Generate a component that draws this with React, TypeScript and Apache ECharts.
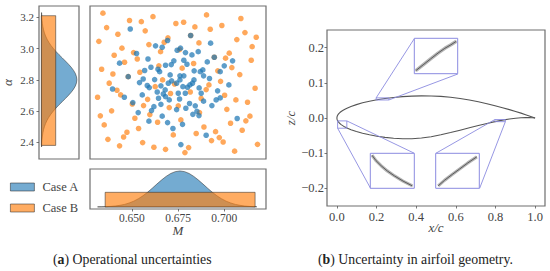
import React, { useEffect, useRef } from "react";
import * as echarts from "echarts";

const FONT = "Liberation Serif";
const BLUE = "rgba(31,119,180,0.62)";
const ORANGE = "rgba(255,127,14,0.65)";
const EDGE = "rgba(40,40,40,0.65)";
const FRAME = "#6e6e6e";
const INSET = "#8b8be0";

// [M, alpha]
const caseA: number[][] = [
[.6491,3.125],[.6693,3.051],[.6628,3.017],[.6664,3.008],[.6525,2.968],[.6587,2.933],[.6433,2.906],[.6763,3.002],[.6745,2.989],[.679,2.974],[.6825,2.959],[.6859,2.980],[.6926,3.034],[.6908,2.914],[.7045,2.921],[.700,2.889],[.6978,2.852],[.6884,2.863],[.687,2.852],[.6837,2.857],[.6727,2.921],[.6713,2.897],[.6682,2.893],[.6781,2.925],[.6798,2.899],[.6603,2.880],[.6569,2.859],[.6641,2.867],[.665,2.852],[.6707,2.831],[.676,2.825],[.6781,2.825],[.6836,2.799],[.6888,2.825],[.692,2.808],[.6561,2.805],[.6541,2.782],[.6623,2.801],[.6583,2.763],[.6594,2.750],[.6715,2.793],[.6697,2.778],[.6657,2.761],[.676,2.799],[.6742,2.778],[.6776,2.756],[.6828,2.778],[.6814,2.767],[.6801,2.752],[.6864,2.748],[.6964,2.729],[.7025,2.767],[.6395,2.741],[.6459,2.688],[.6505,2.654],[.6556,2.703],[.6637,2.722],[.668,2.735],[.667,2.709],[.6644,2.682],[.6702,2.671],[.6751,2.714],[.6789,2.714],[.6875,2.714],[.6758,2.677],[.6888,2.663],[.6956,2.671],[.6978,2.684],[.6682,2.692],[.6619,2.628],[.6606,2.603],[.6657,2.643],[.6534,2.590],[.6592,2.535],[.6664,2.567],[.6693,2.526],[.6722,2.488],[.6774,2.515],[.6742,2.609],[.6792,2.618],[.6812,2.648],[.6843,2.633],[.683,2.579],[.6863,2.571],[.6852,2.598],[.6933,2.635],[.707,2.552],[.6902,2.445],[.6765,2.385],[.6818,3.083],[.6946,2.944],[.648,2.820],
];
const caseB: number[][] = [
[.6343,3.226],[.6363,3.134],[.6321,3.046],[.6424,3.091],[.6487,3.179],[.6551,3.172],[.6572,3.113],[.6614,3.204],[.6738,3.160],[.678,3.168],[.6841,3.138],[.6904,3.215],[.6924,3.123],[.6987,3.147],[.709,3.192],[.7112,3.102],[.7173,3.072],[.7068,3.057],[.7151,3.012],[.6695,3.068],[.6675,3.040],[.6592,3.025],[.6863,3.036],[.6446,3.002],[.6404,2.957],[.6509,2.974],[.6655,2.980],[.6529,2.933],[.646,2.912],[.6336,2.867],[.6397,2.837],[.6377,2.778],[.6314,2.688],[.6419,2.733],[.6439,2.703],[.639,2.601],[.6329,2.569],[.635,2.511],[.6502,2.645],[.6563,2.635],[.6516,2.554],[.6536,2.488],[.6473,2.464],[.6597,2.577],[.6639,2.528],[.6702,2.622],[.6751,2.633],[.6765,2.543],[.6866,2.590],[.6666,2.799],[.6646,2.889],[.6543,2.848],[.6772,2.874],[.6834,2.904],[.7027,2.970],[.7007,2.938],[.6965,2.857],[.7041,2.878],[.7146,2.925],[.7084,2.833],[.698,2.790],[.6917,2.767],[.6626,2.756],[.6731,2.773],[.6816,2.722],[.6709,2.712],[.6902,2.737],[.6875,2.680],[.7002,2.701],[.7063,2.671],[.7126,2.656],[.7014,2.611],[.7139,2.567],[.7117,2.537],[.7034,2.522],[.7097,2.477],[.7167,2.746],[.689,2.498],[.6953,2.468],[.6848,2.456],[.6724,2.447],[.6585,2.675],[.648,2.820],[.6818,3.083],[.6946,2.944],[.6758,2.993],[.637,2.419],[.6455,2.434],[.6433,2.377],[.6558,2.398],[.6619,2.368],[.6682,2.355],[.6931,2.411],[.6973,2.430],[.6994,2.402],[.6787,2.334],[.6807,2.366],[.7056,2.343],[.718,2.387],
];

// [density, alpha]
const alphaDensityA: number[][] = [
[.007,2.37],[.0085,2.38],[.013,2.40],[.020,2.42],[.030,2.44],[.044,2.46],[.063,2.48],[.088,2.50],[.120,2.52],[.161,2.54],[.211,2.56],[.270,2.58],[.339,2.60],[.416,2.62],[.500,2.64],[.589,2.66],[.677,2.68],[.763,2.70],[.841,2.72],[.907,2.74],[.958,2.76],[.989,2.78],[1,2.80],[.989,2.82],[.958,2.84],[.907,2.86],[.841,2.88],[.763,2.90],[.677,2.92],[.589,2.94],[.500,2.96],[.416,2.98],[.339,3.00],[.270,3.02],[.211,3.04],[.161,3.06],[.120,3.08],[.088,3.10],[.063,3.12],[.044,3.14],[.030,3.16],[.020,3.18],[.013,3.20],[.0085,3.22],[.007,3.23],
];
const alphaBoxB: number[][] = [[0,2.38],[.405,2.38],[.405,3.21],[0,3.21]];
// [M, density]
const machDensityA: number[][] = [
[.6314,.004],[.6335,.005],[.636,.010],[.6385,.017],[.641,.029],[.6435,.047],[.646,.073],[.6485,.112],[.651,.163],[.6535,.230],[.656,.313],[.6585,.411],[.661,.521],[.6635,.636],[.666,.748],[.6685,.849],[.671,.930],[.6735,.982],[.676,1],[.6785,.982],[.681,.930],[.6835,.849],[.686,.748],[.6885,.636],[.691,.521],[.6935,.411],[.696,.313],[.6985,.230],[.701,.163],[.7035,.112],[.706,.073],[.7085,.047],[.711,.029],[.7135,.017],[.716,.010],[.7176,.007],
];
const machBoxB: number[][] = [[.6355,0],[.7167,0],[.7167,.408],[.6355,.408]];

const upper: number[][] = [[0,0],[.0006,.0032],[.0024,.0063],[.0054,.0094],[.0096,.0125],[.015,.0155],[.0215,.0184],[.0292,.0213],[.0381,.0242],[.048,.0271],[.0711,.0326],[.0984,.038],[.1295,.0431],[.1642,.0477],[.2022,.0519],[.2429,.0555],[.2862,.0584],[.3316,.0607],[.3785,.0621],[.4266,.0628],[.4755,.0625],[.5245,.0613],[.5734,.0588],[.6215,.0553],[.6684,.051],[.7137,.046],[.7571,.0406],[.7978,.035],[.8355,.0293],[.8705,.0238],[.9016,.0186],[.9289,.0138],[.952,.0095],[.9708,.0059],[.985,.0031],[1,0]];
const lower: number[][] = [[0,0],[.0006,-.0032],[.0024,-.0063],[.0054,-.0094],[.0096,-.0126],[.015,-.0156],[.0215,-.0187],[.0292,-.0217],[.0381,-.0247],[.048,-.0276],[.0711,-.0332],[.0984,-.0384],[.1295,-.0433],[.1642,-.0478],[.2022,-.0517],[.2429,-.055],[.2862,-.0575],[.3316,-.059],[.3785,-.059],[.4266,-.057],[.4755,-.0531],[.5245,-.0477],[.5734,-.0414],[.6215,-.0346],[.6684,-.0278],[.7137,-.0213],[.7571,-.0154],[.7978,-.0102],[.8355,-.006],[.8705,-.0028],[.9016,-.0006],[.9289,.0007],[.952,.0012],[.9708,.0011],[.985,.0007],[1,0]];

const insetTopCurve: number[][] = [[.2,.0517],[.211,.0527],[.222,.0537],[.233,.0547],[.243,.0555],[.252,.0561],[.26,.0567]];
const insetLeftCurve: number[][] = [[.0054,-.0094],[.0096,-.0126],[.015,-.0156],[.0215,-.0187],[.0292,-.0217],[.0381,-.0247],[.048,-.0276]];
const insetRightCurve: number[][] = [[.8,-.00998],[.808,-.0090],[.817,-.00803],[.826,-.0071],[.836,-.00605],[.847,-.0050]];

const insetTopView = { x: [.198, .262], y: [.0512, .0572] };
const insetLeftView = { x: [.0036, .05], y: [-.029, -.00824] };
const insetRightView = { x: [.797, .85], y: [-.0104, -.0044] };

const connectorSets: number[][][] = [
  [[.198,.0572],[.39,.225]], [[.262,.0512],[.61,.125]],
  [[.05,-.00824],[.39,-.1]], [[.0036,-.029],[.17,-.2]],
  [[.797,-.0044],[.5,-.1]], [[.85,-.0104],[.72,-.2]],
];

const alphaTicks = [2.4, 2.6, 2.8, 3.0, 3.2];
const machTicks = [0.65, 0.675, 0.7];
const xcTicks = [0, 0.2, 0.4, 0.6, 0.8, 1.0];
const zcTicks = [-0.2, -0.1, 0, 0.1, 0.2];

const rectOf = (v: { x: number[]; y: number[] }) => [
  [v.x[0], v.y[0]], [v.x[1], v.y[0]], [v.x[1], v.y[1]], [v.x[0], v.y[1]], [v.x[0], v.y[0]],
];

const poly = (name: string, gi: number, pts: number[][], fill: string, z = 2) => ({
  type: "custom", name, xAxisIndex: gi, yAxisIndex: gi, z, clip: false,
  data: pts, encode: { x: 0, y: 1 },
  renderItem: (p: any, api: any) => {
    if (p.dataIndex !== 0) return null as any;
    return {
      type: "polygon",
      shape: { points: pts.map((q) => api.coord(q)) },
      style: { fill, stroke: EDGE, lineWidth: 0.8 },
    };
  },
});

const line = (gi: number, data: number[][], color: string, width: number, z = 3) => ({
  type: "line", xAxisIndex: gi, yAxisIndex: gi, data, z, showSymbol: false, symbol: "none",
  silent: true, lineStyle: { color, width }, clip: true,
});

const tickFont = (size: number, margin: number, formatter: (v: number) => string, customValues: number[]) => ({
  show: true, fontFamily: FONT, fontSize: size, color: "#444", margin, formatter, customValues,
  showMinLabel: true, showMaxLabel: true,
});
const hiddenAxis = (gi: number, min: number, max: number) => ({
  type: "value", gridIndex: gi, min, max, show: false, splitLine: { show: false },
});
const tick = (customValues: number[]) => ({ show: true, length: 2.5, lineStyle: { color: "#555", width: 0.8 }, customValues });
const nameStyle = { fontFamily: FONT, fontStyle: "italic", fontSize: 13, color: "#444" };
const neg = (d: number) => (v: number) => (v < 0 ? "\u2212" : "") + Math.abs(v).toFixed(d);

const frame = { show: true, borderColor: FRAME, borderWidth: 1.2, backgroundColor: "transparent" };
const insetFrame = { show: true, borderColor: INSET, borderWidth: 1, backgroundColor: "#fff", z: 5 };

export default function App() {
  const ref = useRef<HTMLDivElement>(null);
  useEffect(() => {
    if (!ref.current) return;
    const chart = echarts.init(ref.current, undefined, { renderer: "svg" });
    const alphaRange = [2.293, 3.272];
    const machRange = [0.6273, 0.7226];
    chart.setOption({
      animation: false,
      backgroundColor: "#fff",
      grid: [
        { left: 33, top: 6, width: 46, height: 153, ...frame },
        { left: 90, top: 6, width: 176, height: 153, ...frame },
        { left: 90, top: 169, width: 176, height: 40, ...frame },
        { left: 327, top: 30, width: 218, height: 176, ...frame },
        { left: 414.3, top: 38.3, width: 43.4, height: 35.4, ...insetFrame },
        { left: 370.3, top: 153.3, width: 44, height: 35, ...insetFrame },
        { left: 435.7, top: 153.3, width: 43.6, height: 35, ...insetFrame },
      ],
      xAxis: [
        hiddenAxis(0, -0.065, 1.06),
        hiddenAxis(1, machRange[0], machRange[1]),
        {
          type: "value", gridIndex: 2, min: machRange[0], max: machRange[1], name: "M", nameLocation: "middle", nameGap: 15, nameMoveOverlap: false,
          nameTextStyle: nameStyle, splitLine: { show: false }, axisLine: { show: false, onZero: false },
          axisTick: tick(machTicks), axisLabel: tickFont(11.5, 3, neg(3), machTicks),
        },
        {
          type: "value", gridIndex: 3, min: -0.05, max: 1.05, name: "x/c", nameLocation: "middle", nameGap: 15, nameMoveOverlap: false,
          nameTextStyle: nameStyle, splitLine: { show: false }, axisLine: { show: false, onZero: false },
          axisTick: tick(xcTicks), axisLabel: tickFont(12.5, 4, neg(1), xcTicks),
        },
        hiddenAxis(4, insetTopView.x[0], insetTopView.x[1]),
        hiddenAxis(5, insetLeftView.x[0], insetLeftView.x[1]),
        hiddenAxis(6, insetRightView.x[0], insetRightView.x[1]),
      ],
      yAxis: [
        {
          type: "value", gridIndex: 0, min: alphaRange[0], max: alphaRange[1], name: "\u03b1", nameLocation: "middle", nameGap: 25, nameMoveOverlap: false,
          nameTextStyle: nameStyle, splitLine: { show: false }, axisLine: { show: false, onZero: false },
          axisTick: tick(alphaTicks), axisLabel: tickFont(11, 5, neg(1), alphaTicks),
        },
        hiddenAxis(1, alphaRange[0], alphaRange[1]),
        hiddenAxis(2, -0.055, 1.055),
        {
          type: "value", gridIndex: 3, min: -0.25, max: 0.25, name: "z/c", nameLocation: "middle", nameGap: 30, nameMoveOverlap: false,
          nameTextStyle: nameStyle, splitLine: { show: false }, axisLine: { show: false, onZero: false },
          axisTick: tick(zcTicks), axisLabel: tickFont(12.5, 3, neg(1), zcTicks),
        },
        hiddenAxis(4, insetTopView.y[0], insetTopView.y[1]),
        hiddenAxis(5, insetLeftView.y[0], insetLeftView.y[1]),
        hiddenAxis(6, insetRightView.y[0], insetRightView.y[1]),
      ],
      legend: {
        left: 10, top: 180.5, orient: "vertical", itemWidth: 24, itemHeight: 8, itemGap: 8, selectedMode: false,
        textStyle: { fontFamily: FONT, fontSize: 12.5, color: "#444", padding: [0, 0, 0, 3] },
        padding: 0,
        data: [
          { name: "Case A", icon: "rect", itemStyle: { color: BLUE, borderColor: EDGE, borderWidth: 0.8 } },
          { name: "Case B", icon: "rect", itemStyle: { color: ORANGE, borderColor: EDGE, borderWidth: 0.8 } },
        ],
      },
      series: [
        poly("Case A", 0, alphaDensityA, BLUE, 2),
        poly("Case B", 0, alphaBoxB, ORANGE, 3),
        {
          type: "scatter", name: "Case B", xAxisIndex: 1, yAxisIndex: 1, data: caseB, symbolSize: 5.6, z: 2,
          itemStyle: { color: "#ff7f0e", opacity: 0.68 },
        },
        {
          type: "scatter", name: "Case A", xAxisIndex: 1, yAxisIndex: 1, data: caseA, symbolSize: 5.6, z: 3,
          itemStyle: { color: "#1f77b4", opacity: 0.72 },
        },
        poly("Case A", 2, machDensityA, BLUE, 2),
        poly("Case B", 2, machBoxB, ORANGE, 3),
        line(3, upper, "#555", 1.1),
        line(3, lower, "#555", 1.1),
        ...connectorSets.map((c) => line(3, c, INSET, 0.9, 4)),
        line(3, rectOf(insetTopView), INSET, 0.9, 4),
        line(3, rectOf(insetLeftView), INSET, 0.9, 4),
        line(3, rectOf(insetRightView), INSET, 0.9, 4),
        line(4, insetTopCurve, "#b4b4b4", 3.4, 6),
        line(4, insetTopCurve, "#5a5a5a", 1, 7),
        line(5, insetLeftCurve, "#b4b4b4", 3.2, 6),
        line(5, insetLeftCurve, "#5a5a5a", 1, 7),
        line(6, insetRightCurve, "#b4b4b4", 3.2, 6),
        line(6, insetRightCurve, "#5a5a5a", 1, 7),
      ],
      graphic: [
        {
          type: "text", left: 53, top: 252,
          style: {
            text: "({b|a}) Operational uncertainties", fontFamily: FONT, fontSize: 13.8, fill: "#222",
            rich: { b: { fontFamily: FONT, fontWeight: "bold", fontSize: 13.8, fill: "#222" } },
          },
        },
        {
          type: "text", left: 318, top: 252,
          style: {
            text: "({b|b}) Uncertainty in airfoil geometry.", fontFamily: FONT, fontSize: 13.8, fill: "#222",
            rich: { b: { fontFamily: FONT, fontWeight: "bold", fontSize: 13.8, fill: "#222" } },
          },
        },
      ],
    });
    return () => chart.dispose();
  }, []);
  return <div ref={ref} style={{ position: "fixed", left: 0, top: 0, width: 550, height: 271 }} />;
}
